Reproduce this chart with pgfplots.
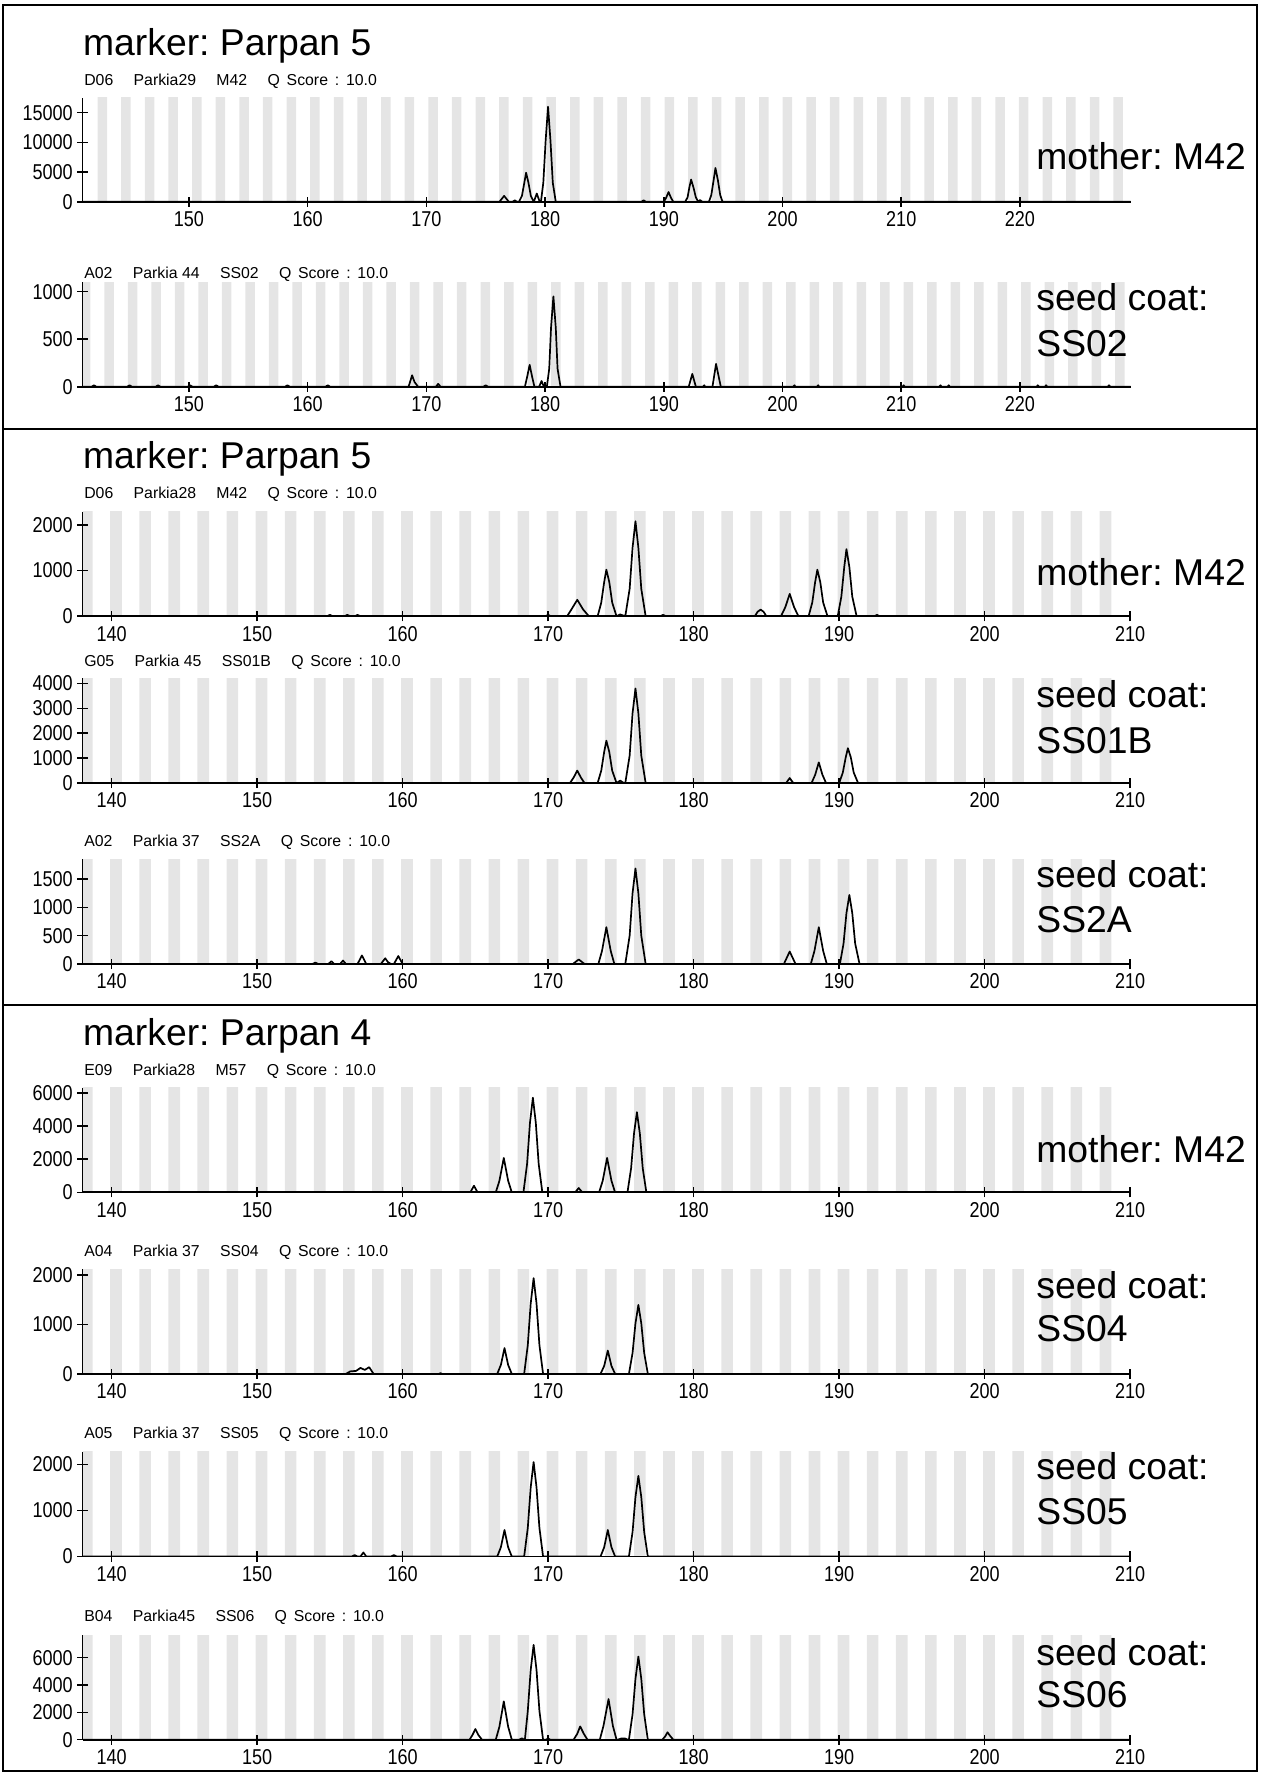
\documentclass[border=0pt]{standalone}
\usepackage{fontspec}
\setmainfont{Liberation Sans}
\newfontfamily\narrowsans[FakeStretch=0.84]{Liberation Sans}
\usepackage{pgfplots}
\pgfplotsset{compat=1.18}
\usepackage{pgfplotstable}
\frenchspacing

\definecolor{bandgray}{RGB}{229,229,229}
\newcommand\bigtxt{\fontsize{33}{39.5}\selectfont}
\newcommand\headtxt{\fontsize{14}{16}\selectfont}
\newcommand\ticktxt{\narrowsans\fontsize{19}{21}\selectfont}
\newcommand\hsp{\hspace{18pt}}
\newcommand\qs{{\spaceskip=6pt Q Score : 10.0}}

\pgfplotsset{
  cell/.style={
    scale only axis, anchor=south west, axis on top,
    axis x line=bottom, axis y line=left,
    axis line style={-, line width=1.6pt},
    every tick/.style={black, line width=1.4pt},
    tick align=center, major tick length=9pt,
    ticklabel style={font=\ticktxt, inner sep=1pt},
    yticklabel style={xshift=-3pt},
    xticklabel style={yshift=-3pt},
    scaled y ticks=false,
    /pgf/number format/assume math mode=true,
    /pgf/number format/1000 sep={},
    ymin=0, height=92.5pt,
  },
  wide/.style={cell, xmin=141.04, xmax=229.33, width=927pt, xtick={150,160,...,220}},
  narrow/.style={cell, xmin=138, xmax=210, width=926.5pt, xtick={140,150,...,210}},
  band/.style={ybar, bar width=0.8, bar shift=0pt, fill=bandgray, draw=none},
  sig/.style={black, line width=1.5pt, line join=round, mark=none},
}

% bin bands (centre, height beyond the top so they fill the plot)
\pgfplotstableread[row sep=\\]{x y\\
142.70 1e5\\ 144.69 1e5\\ 146.68 1e5\\ 148.67 1e5\\ 150.66 1e5\\ 152.65 1e5\\
154.64 1e5\\ 156.63 1e5\\ 158.62 1e5\\ 160.61 1e5\\ 162.60 1e5\\ 164.59 1e5\\
166.58 1e5\\ 168.57 1e5\\ 170.56 1e5\\ 172.55 1e5\\ 174.54 1e5\\ 176.53 1e5\\
178.52 1e5\\ 180.51 1e5\\ 182.50 1e5\\ 184.49 1e5\\ 186.48 1e5\\ 188.47 1e5\\
190.46 1e5\\ 192.45 1e5\\ 194.44 1e5\\ 196.43 1e5\\ 198.42 1e5\\ 200.41 1e5\\
202.40 1e5\\ 204.39 1e5\\ 206.38 1e5\\ 208.37 1e5\\ 210.36 1e5\\ 212.35 1e5\\
214.34 1e5\\ 216.33 1e5\\ 218.32 1e5\\ 220.31 1e5\\ 222.30 1e5\\ 224.29 1e5\\
226.28 1e5\\ 228.27 1e5\\
}\bandsA
\pgfplotstableread[row sep=\\]{x y\\
141.30 1e5\\ 143.28 1e5\\ 145.26 1e5\\ 147.24 1e5\\ 149.22 1e5\\ 151.20 1e5\\
153.18 1e5\\ 155.16 1e5\\ 157.14 1e5\\ 159.12 1e5\\ 161.10 1e5\\ 163.08 1e5\\
165.06 1e5\\ 167.04 1e5\\ 169.02 1e5\\ 171.00 1e5\\ 172.98 1e5\\ 174.96 1e5\\
176.94 1e5\\ 178.92 1e5\\ 180.90 1e5\\ 182.88 1e5\\ 184.86 1e5\\ 186.84 1e5\\
188.82 1e5\\ 190.80 1e5\\ 192.78 1e5\\ 194.76 1e5\\ 196.74 1e5\\ 198.72 1e5\\
200.70 1e5\\ 202.68 1e5\\ 204.66 1e5\\ 206.64 1e5\\ 208.62 1e5\\ 210.60 1e5\\
212.58 1e5\\ 214.56 1e5\\ 216.54 1e5\\ 218.52 1e5\\ 220.50 1e5\\ 222.48 1e5\\
224.46 1e5\\ 226.44 1e5\\ 228.42 1e5\\
}\bandsB
\pgfplotstableread[row sep=\\]{x y\\
138.3 1e5\\ 140.3 1e5\\ 142.3 1e5\\ 144.3 1e5\\ 146.3 1e5\\ 148.3 1e5\\
150.3 1e5\\ 152.3 1e5\\ 154.3 1e5\\ 156.3 1e5\\ 158.3 1e5\\ 160.3 1e5\\
162.3 1e5\\ 164.3 1e5\\ 166.3 1e5\\ 168.3 1e5\\ 170.3 1e5\\ 172.3 1e5\\
174.3 1e5\\ 176.3 1e5\\ 178.3 1e5\\ 180.3 1e5\\ 182.3 1e5\\ 184.3 1e5\\
186.3 1e5\\ 188.3 1e5\\ 190.3 1e5\\ 192.3 1e5\\ 194.3 1e5\\ 196.3 1e5\\
198.3 1e5\\ 200.3 1e5\\ 202.3 1e5\\ 204.3 1e5\\ 206.3 1e5\\ 208.3 1e5\\
}\bandsC

\begin{document}
\begin{tikzpicture}
\useasboundingbox (0pt,0pt) rectangle (1115pt,-1568pt);
\draw[line width=1.8pt] (3pt,-4pt) rectangle (1112pt,-1566pt);
\draw[line width=1.8pt] (3pt,-379pt) -- (1112pt,-379pt);
\draw[line width=1.8pt] (3pt,-889pt) -- (1112pt,-889pt);

% ---- Parpan 5, M42
\begin{axis}[wide, at={(73pt,-178.5pt)}, height=92pt, ymax=17500, ytick={0,5000,10000,15000}]
\addplot[band] table {\bandsA};
\addplot[sig] coordinates {(141.04,0)(176.15,0)(176.55,1000)(176.95,0)(177.25,0)(177.45,250)(177.65,0)
 (177.8,0)(178.05,1000)(178.25,3200)(178.4,4900)(178.6,3200)(178.8,1000)(179.05,0)(179.3,1400)(179.55,0)
 (179.65,0)(179.85,3200)(180.05,10400)(180.25,16000)(180.45,10400)(180.65,3200)(180.9,0)
 (188.1,0)(188.3,250)(188.5,0)(190.0,0)(190.2,700)(190.4,1650)(190.6,700)(190.8,0)
 (191.8,0)(192.0,750)(192.15,2400)(192.3,3750)(192.5,2400)(192.7,750)(192.9,0)(193.05,300)(193.25,0)
 (193.8,0)(194.0,1140)(194.2,3700)(194.35,5700)(194.55,3700)(194.75,1140)(194.95,0)(229.33,0)};
\end{axis}
\node[anchor=base west, font=\bigtxt] at (70pt,-49pt) {marker: Parpan 5};
\node[anchor=base west, font=\headtxt] at (71pt,-75.5pt) {D06\hsp Parkia29\hsp M42\hsp\qs};
\node[anchor=base west, font=\bigtxt] at (913pt,-150pt) {mother: M42};

% ---- Parpan 5, SS02
\begin{axis}[wide, at={(73pt,-342pt)}, ymax=1100, ytick={0,500,1000}]
\addplot[band] table {\bandsB};
\addplot[sig] coordinates {(141.04,0)(141.8,0)(142.0,15)(142.2,0)(144.8,0)(145.0,15)(145.2,0)
 (147.2,0)(147.4,15)(147.6,0)(149.9,0)(150.1,15)(150.3,0)(152.1,0)(152.3,15)(152.5,0)
 (158.1,0)(158.3,15)(158.5,0)(161.5,0)(161.7,15)(161.9,0)(168.5,0)(168.8,120)(169.0,50)(169.3,0)
 (170.8,0)(171.0,30)(171.2,0)(174.8,0)(175.0,15)(175.2,0)(178.3,0)(178.5,110)(178.7,230)(178.9,110)(179.1,0)
 (179.5,0)(179.7,60)(179.9,0)(180.15,0)(180.35,190)(180.5,620)(180.7,950)(180.9,620)(181.05,190)(181.3,0)
 (192.1,0)(192.4,135)(192.7,0)(193.3,0)(193.4,15)(193.5,0)(194.1,0)(194.25,120)(194.4,240)(194.6,120)(194.8,0)
 (200.9,0)(201.0,15)(201.1,0)(202.9,0)(203.0,15)(203.1,0)(210.1,0)(210.2,15)(210.3,0)
 (213.2,0)(213.3,15)(213.4,0)(213.9,0)(214.0,15)(214.1,0)(221.4,0)(221.5,15)(221.6,0)
 (222.1,0)(222.2,15)(222.3,0)(227.4,0)(227.5,15)(227.6,0)(229.33,0)};
\end{axis}
\node[anchor=base west, font=\headtxt] at (71pt,-246.5pt) {A02\hsp Parkia 44\hsp SS02\hsp\qs};
\node[anchor=base west, font=\bigtxt] at (913pt,-275pt) {seed coat:};
\node[anchor=base west, font=\bigtxt] at (913pt,-315pt) {SS02};

% ---- Parpan 5, M42 (second run)
\begin{axis}[narrow, at={(73pt,-545pt)}, ymax=2290, ytick={0,1000,2000}]
\addplot[band] table {\bandsC};
\addplot[sig] coordinates {(138,0)(154.8,0)(155.0,30)(155.2,0)(156.0,0)(156.2,30)(156.4,0)(156.7,0)(156.9,30)(157.1,0)
 (169.8,0)(170.0,30)(170.2,0)(171.3,0)(171.6,150)(172.0,360)(172.4,150)(172.8,0)
 (173.4,0)(173.65,300)(173.85,750)(174.0,1020)(174.2,750)(174.4,300)(174.7,0)(174.95,40)
 (175.3,0)(175.6,600)(175.8,1500)(176.0,2080)(176.2,1500)(176.4,600)(176.7,0)(177.7,0)(177.9,30)(178.1,0)
 (184.2,0)(184.4,100)(184.6,145)(184.8,100)(185.0,0)(186.0,0)(186.3,200)(186.6,490)(186.9,200)(187.2,0)
 (187.9,0)(188.15,300)(188.35,750)(188.5,1020)(188.7,750)(188.9,300)(189.2,0)
 (189.9,0)(190.15,430)(190.35,1080)(190.5,1470)(190.7,1080)(190.9,430)(191.2,0)(192.4,0)(192.6,30)(192.8,0)(210,0)};
\end{axis}
\node[anchor=base west, font=\bigtxt] at (70pt,-414pt) {marker: Parpan 5};
\node[anchor=base west, font=\headtxt] at (71pt,-441pt) {D06\hsp Parkia28\hsp M42\hsp\qs};
\node[anchor=base west, font=\bigtxt] at (913pt,-518pt) {mother: M42};

% ---- SS01B
\begin{axis}[narrow, at={(73pt,-692.5pt)}, ymax=4200, ytick={0,1000,2000,3000,4000}]
\addplot[band] table {\bandsC};
\addplot[sig] coordinates {(138,0)(171.5,0)(171.75,220)(172.0,500)(172.25,220)(172.5,0)
 (173.4,0)(173.65,500)(173.85,1250)(174.0,1700)(174.2,1250)(174.4,500)(174.7,0)(174.95,100)(175.2,0)
 (175.3,0)(175.6,1100)(175.8,2800)(176.0,3800)(176.2,2800)(176.4,1100)(176.7,0)
 (186.35,0)(186.6,200)(186.85,0)(188.1,0)(188.35,330)(188.6,830)(188.85,330)(189.1,0)
 (190.0,0)(190.25,420)(190.45,1030)(190.6,1400)(190.8,1030)(191.0,420)(191.3,0)(210,0)};
\end{axis}
\node[anchor=base west, font=\headtxt] at (71pt,-589pt) {G05\hsp Parkia 45\hsp SS01B\hsp\qs};
\node[anchor=base west, font=\bigtxt] at (913pt,-626pt) {seed coat:};
\node[anchor=base west, font=\bigtxt] at (913pt,-666pt) {SS01B};

% ---- SS2A
\begin{axis}[narrow, at={(73pt,-852.5pt)}, ymax=1850, ytick={0,500,1000,1500}]
\addplot[band] table {\bandsC};
\addplot[sig] coordinates {(138,0)(153.8,0)(154.0,25)(154.2,0)(154.9,0)(155.1,50)(155.3,0)(155.7,0)(155.9,60)(156.1,0)
 (156.9,0)(157.2,150)(157.5,0)(158.5,0)(158.8,100)(159.0,30)(159.2,0)(159.4,0)(159.7,140)(160.0,0)
 (171.7,0)(172.1,80)(172.5,0)(173.45,0)(173.7,230)(174.0,650)(174.3,230)(174.55,0)
 (175.3,0)(175.6,500)(175.8,1250)(176.0,1690)(176.2,1250)(176.4,500)(176.7,0)
 (186.2,0)(186.6,220)(187.0,0)(188.05,0)(188.3,230)(188.6,650)(188.9,230)(189.15,0)
 (190.05,0)(190.3,360)(190.5,900)(190.7,1220)(190.9,900)(191.1,360)(191.4,0)(210,0)};
\end{axis}
\node[anchor=base west, font=\headtxt] at (71pt,-749pt) {A02\hsp Parkia 37\hsp SS2A\hsp\qs};
\node[anchor=base west, font=\bigtxt] at (913pt,-785pt) {seed coat:};
\node[anchor=base west, font=\bigtxt] at (913pt,-825pt) {SS2A};

% ---- Parpan 4, M57
\begin{axis}[narrow, at={(73pt,-1054.5pt)}, ymax=6300, ytick={0,2000,4000,6000}]
\addplot[band] table {\bandsC};
\addplot[sig] coordinates {(138,0)(164.65,0)(164.9,400)(165.15,0)(166.4,0)(166.65,700)(166.95,2075)(167.25,700)(167.5,0)
 (168.3,0)(168.55,1700)(168.75,4200)(168.95,5700)(169.15,4200)(169.35,1700)(169.6,0)
 (171.85,0)(172.1,260)(172.35,0)(173.5,0)(173.75,700)(174.05,2075)(174.35,700)(174.6,0)
 (175.45,0)(175.7,1450)(175.9,3550)(176.1,4830)(176.3,3550)(176.5,1450)(176.75,0)(210,0)};
\end{axis}
\node[anchor=base west, font=\bigtxt] at (70pt,-925pt) {marker: Parpan 4};
\node[anchor=base west, font=\headtxt] at (71pt,-951.5pt) {E09\hsp Parkia28\hsp M57\hsp\qs};
\node[anchor=base west, font=\bigtxt] at (913pt,-1028pt) {mother: M42};

% ---- SS04
\begin{axis}[narrow, at={(73pt,-1215pt)}, ymax=2110, ytick={0,1000,2000}]
\addplot[band] table {\bandsC};
\addplot[sig] coordinates {(138,0)(156.1,0)(156.4,50)(156.8,60)(157.1,120)(157.4,80)(157.7,135)(158.0,0)
 (162.5,0)(162.6,15)(162.7,0)(166.5,0)(166.75,180)(167.0,520)(167.25,180)(167.5,0)
 (168.35,0)(168.6,580)(168.8,1420)(169.0,1930)(169.2,1420)(169.4,580)(169.65,0)
 (173.6,0)(173.85,160)(174.1,470)(174.35,160)(174.6,0)
 (175.55,0)(175.8,420)(176.0,1020)(176.2,1390)(176.4,1020)(176.6,420)(176.85,0)(210,0)};
\end{axis}
\node[anchor=base west, font=\headtxt] at (71pt,-1111.5pt) {A04\hsp Parkia 37\hsp SS04\hsp\qs};
\node[anchor=base west, font=\bigtxt] at (913pt,-1148pt) {seed coat:};
\node[anchor=base west, font=\bigtxt] at (913pt,-1186pt) {SS04};

% ---- SS05
\begin{axis}[narrow, at={(73pt,-1376.5pt)}, ymax=2270, ytick={0,1000,2000}]
\addplot[band] table {\bandsC};
\addplot[sig] coordinates {(138,0)(156.5,0)(156.7,30)(156.9,0)(157.1,0)(157.3,86)(157.5,0)(159.2,0)(159.4,30)(159.6,0)
 (166.5,0)(166.75,200)(167.0,575)(167.25,200)(167.5,0)
 (168.35,0)(168.6,620)(168.8,1500)(169.0,2050)(169.2,1500)(169.4,620)(169.65,0)
 (173.6,0)(173.85,200)(174.1,575)(174.35,200)(174.6,0)
 (175.55,0)(175.8,530)(176.0,1290)(176.2,1750)(176.4,1290)(176.6,530)(176.85,0)(210,0)};
\end{axis}
\node[anchor=base west, font=\headtxt] at (71pt,-1272pt) {A05\hsp Parkia 37\hsp SS05\hsp\qs};
\node[anchor=base west, font=\bigtxt] at (913pt,-1308pt) {seed coat:};
\node[anchor=base west, font=\bigtxt] at (913pt,-1348pt) {SS05};

% ---- SS06
\begin{axis}[narrow, at={(73pt,-1538.5pt)}, ymax=7650, ytick={0,2000,4000,6000}]
\addplot[band] table {\bandsC};
\addplot[sig] coordinates {(138,0)(164.6,0)(164.8,350)(165.0,780)(165.2,350)(165.45,0)
 (166.4,0)(166.65,950)(166.95,2800)(167.25,950)(167.5,0)(168.0,0)(168.2,100)(168.35,0)
 (168.4,0)(168.6,2100)(168.8,5100)(169.0,6930)(169.2,5100)(169.4,2100)(169.65,0)(169.85,0)(170.0,80)(170.15,0)
 (171.75,0)(172.0,430)(172.2,970)(172.45,430)(172.7,0)(173.55,0)(173.8,1000)(174.15,2970)(174.45,1000)(174.7,0)
 (174.8,0)(175.0,80)(175.3,80)(175.45,0)(175.55,0)(175.8,1850)(176.0,4450)(176.2,6080)(176.4,4450)(176.6,1850)(176.85,0)
 (177.85,0)(178.05,250)(178.2,540)(178.4,250)(178.6,0)(210,0)};
\end{axis}
\node[anchor=base west, font=\headtxt] at (71pt,-1434pt) {B04\hsp Parkia45\hsp SS06\hsp\qs};
\node[anchor=base west, font=\bigtxt] at (913pt,-1473pt) {seed coat:};
\node[anchor=base west, font=\bigtxt] at (913pt,-1510pt) {SS06};
\end{tikzpicture}
\end{document}
